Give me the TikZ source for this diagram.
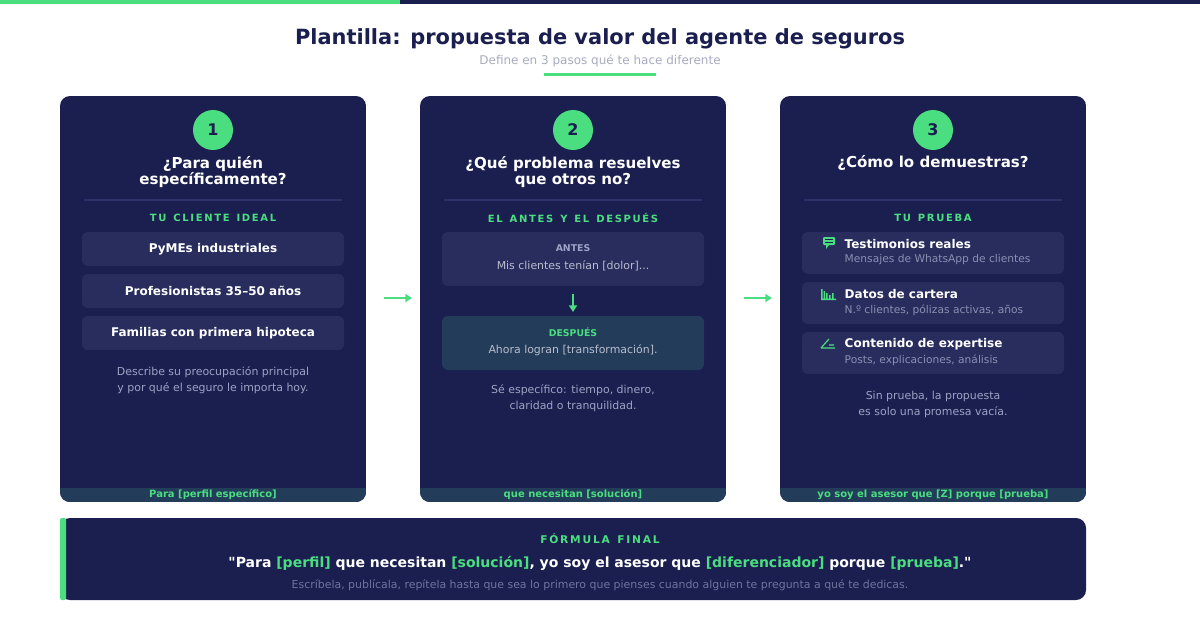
\documentclass[tikz,border=0pt]{standalone}
\usepackage{fontspec}
\defaultfontfeatures{}
\setmainfont{DejaVu Sans}[Ligatures=TeXOff]
\usetikzlibrary{arrows.meta}
\definecolor{navy}{HTML}{1A1F4F}
\definecolor{grn}{HTML}{4ADE80}
\definecolor{box}{HTML}{282D5E}
\definecolor{tealbox}{HTML}{223C5A}
\definecolor{sep}{HTML}{2C3268}
\definecolor{gry}{HTML}{9EA2C4}
\definecolor{lgry}{HTML}{A8ABC0}
\definecolor{dgry}{HTML}{6E739E}
\begin{document}
\begin{tikzpicture}[x=0.75pt,y=-0.75pt,
 card/.style={fill=navy,rounded corners=7.5pt},
 item/.style={fill=box,rounded corners=4.5pt},
 num/.style={circle,fill=grn,minimum size=30pt,inner sep=0,text=navy,font=\bfseries\fontsize{12}{14}\selectfont},
 head/.style={text=white,font=\bfseries\fontsize{11.3}{13.5}\selectfont,align=center},
 lab/.style={text=grn,font=\bfseries\fontsize{7.5}{9}\selectfont},
 itxt/.style={text=white,font=\bfseries\fontsize{9}{11}\selectfont},
 note/.style={text=gry,font=\fontsize{8.2}{12}\selectfont,align=center},
 strip/.style={text=grn,font=\bfseries\fontsize{7.5}{9}\selectfont},
 arr/.style={draw=grn,line width=1.3pt,-{Triangle[length=5pt,width=6pt]}}]
\useasboundingbox (0,0) rectangle (1200,628);
\fill[white] (0,0) rectangle (1200,628);
\fill[grn] (0,0) rectangle (400,4);
\fill[navy] (400,0) rectangle (1200,4);
\node[text=navy,font=\bfseries\fontsize{15.7}{19}\selectfont] (title) at (600,39) {Plantilla: propuesta de valor del agente de seguros};
\node[text=lgry,font=\fontsize{9}{11}\selectfont] (sub) at (600,61) {Define en 3 pasos qué te hace diferente};
\fill[grn] (544,72.5) rectangle (656,75.5);
% cards
\foreach \x in {60,420,780}{
 \begin{scope}
 \clip[rounded corners=7.5pt] (\x,96) rectangle (\x+306,502);
 \fill[navy] (\x,96) rectangle (\x+306,502);
 \fill[tealbox] (\x,488) rectangle (\x+306,502);
 \end{scope}
 \draw[sep,line width=1.2pt] (\x+24,200) -- (\x+282,200);
}
% card 1
\node[num] (n1) at (213,130) {1};
\node[head] (h1) at (213,172) {¿Para quién\\[-1pt]específicamente?};
\node[lab] (l1) at (213,218) {T\,U\ \ C\,L\,I\,E\,N\,T\,E\ \ I\,D\,E\,A\,L};
\fill[item] (82,232) rectangle (344,266); \node[itxt] (a1) at (213,249) {PyMEs industriales};
\fill[item] (82,274) rectangle (344,308); \node[itxt] (a2) at (213,291) {Profesionistas 35–50 años};
\fill[item] (82,316) rectangle (344,350); \node[itxt] (a3) at (213,333) {Familias con primera hipoteca};
\node[note] (t1) at (213,380) {Describe su preocupación principal\\y por qué el seguro le importa hoy.};
\node[strip] (s1) at (213,495) {Para [perfil específico]};
% card 2
\node[num] (n2) at (573,130) {2};
\node[head] (h2) at (573,172) {¿Qué problema resuelves\\[-1pt]que otros no?};
\node[lab] (l2) at (573,218) {E\,L\ \ A\,N\,T\,E\,S\ \ Y\ \ E\,L\ \ D\,E\,S\,P\,U\,É\,S};
\fill[item] (442,232) rectangle (704,286);
\node[text=gry,font=\bfseries\fontsize{7}{9}\selectfont] (b1) at (573,248) {ANTES};
\node[text=lgry!80!white,font=\fontsize{8.2}{10}\selectfont] (b2) at (573,266) {Mis clientes tenían [dolor]...};
\fill[tealbox,rounded corners=4.5pt] (442,316) rectangle (704,370);
\node[lab,font=\bfseries\fontsize{7}{9}\selectfont] (c1) at (573,332) {DESPUÉS};
\node[text=lgry!80!white,font=\fontsize{8.2}{10}\selectfont] (c2) at (573,350) {Ahora logran [transformación].};
\coordinate (d1) at (573,294); \coordinate (d2) at (573,312);
\draw[arr] (d1) -- (d2);
\node[note] (t2) at (573,398) {Sé específico: tiempo, dinero,\\claridad o tranquilidad.};
\node[strip] (s2) at (573,495) {que necesitan [solución]};
% card 3
\node[num] (n3) at (933,130) {3};
\node[head] (h3) at (933,163) {¿Cómo lo demuestras?};
\node[lab] (l3) at (933,218) {T\,U\ \ P\,R\,U\,E\,B\,A};
\foreach \y/\t/\s/\k in {232/{Testimonios reales}/{Mensajes de WhatsApp de clientes}/1,282/{Datos de cartera}/{N.º clientes, pólizas activas, años}/2,332/{Contenido de expertise}/{Posts, explicaciones, análisis}/3}{
 \fill[item] (802,\y) rectangle (1064,\y+42);
 \node[itxt,anchor=west] (p\k) at (840,\y+12) {\t};
 \node[text=dgry!80!white,anchor=west,font=\fontsize{8}{10}\selectfont] (q\k) at (840,\y+28) {\s};
}
% icons
\fill[grn,rounded corners=0.8pt] (823,237) rectangle (835,245);
\fill[grn] (826,245) -- (829,245) -- (826,249) -- cycle;
\draw[navy,line width=0.5pt] (825,239.5) -- (833,239.5) (825,242) -- (833,242);
\fill[grn] (821,289) rectangle (822.5,300) (821,298.5) rectangle (836,300) (823.5,291) rectangle (825,299) (826,293) rectangle (827.5,299) (829,295) rectangle (830.5,299) (832,293) rectangle (833.5,299);
\draw[grn,line width=0.9pt] (821,348) -- (829,339) (821,348) -- (835,348) (829,345) -- (834,345);
% notes
\node[note] (t3) at (933,404) {Sin prueba, la propuesta\\es solo una promesa vacía.};
\node[strip] (s3) at (933,495) {yo soy el asesor que [Z] porque [prueba]};
% arrows
\coordinate (r1) at (384,298); \coordinate (r2) at (412,298);
\coordinate (r3) at (744,298); \coordinate (r4) at (772,298);
\draw[arr] (r1) -- (r2); \draw[arr] (r3) -- (r4);
% bottom
\fill[navy,rounded corners=7.5pt] (60,518) rectangle (1086,600);
\fill[grn,rounded corners=1.5pt] (60,518) rectangle (66,600);
\node[lab,font=\bfseries\fontsize{8}{10}\selectfont] (f1) at (600,539) {F\,Ó\,R\,M\,U\,L\,A\ \ F\,I\,N\,A\,L};
\node[text=white,font=\bfseries\fontsize{10.5}{13}\selectfont] (f2) at (600,563) {"Para \textcolor{grn}{[perfil]} que necesitan \textcolor{grn}{[solución]}, yo soy el asesor que \textcolor{grn}{[diferenciador]} porque \textcolor{grn}{[prueba]}."};
\node[text=dgry,font=\fontsize{8.2}{10}\selectfont] (f3) at (600,585) {Escríbela, publícala, repítela hasta que sea lo primero que pienses cuando alguien te pregunta a qué te dedicas.};
\end{tikzpicture}
\end{document}
